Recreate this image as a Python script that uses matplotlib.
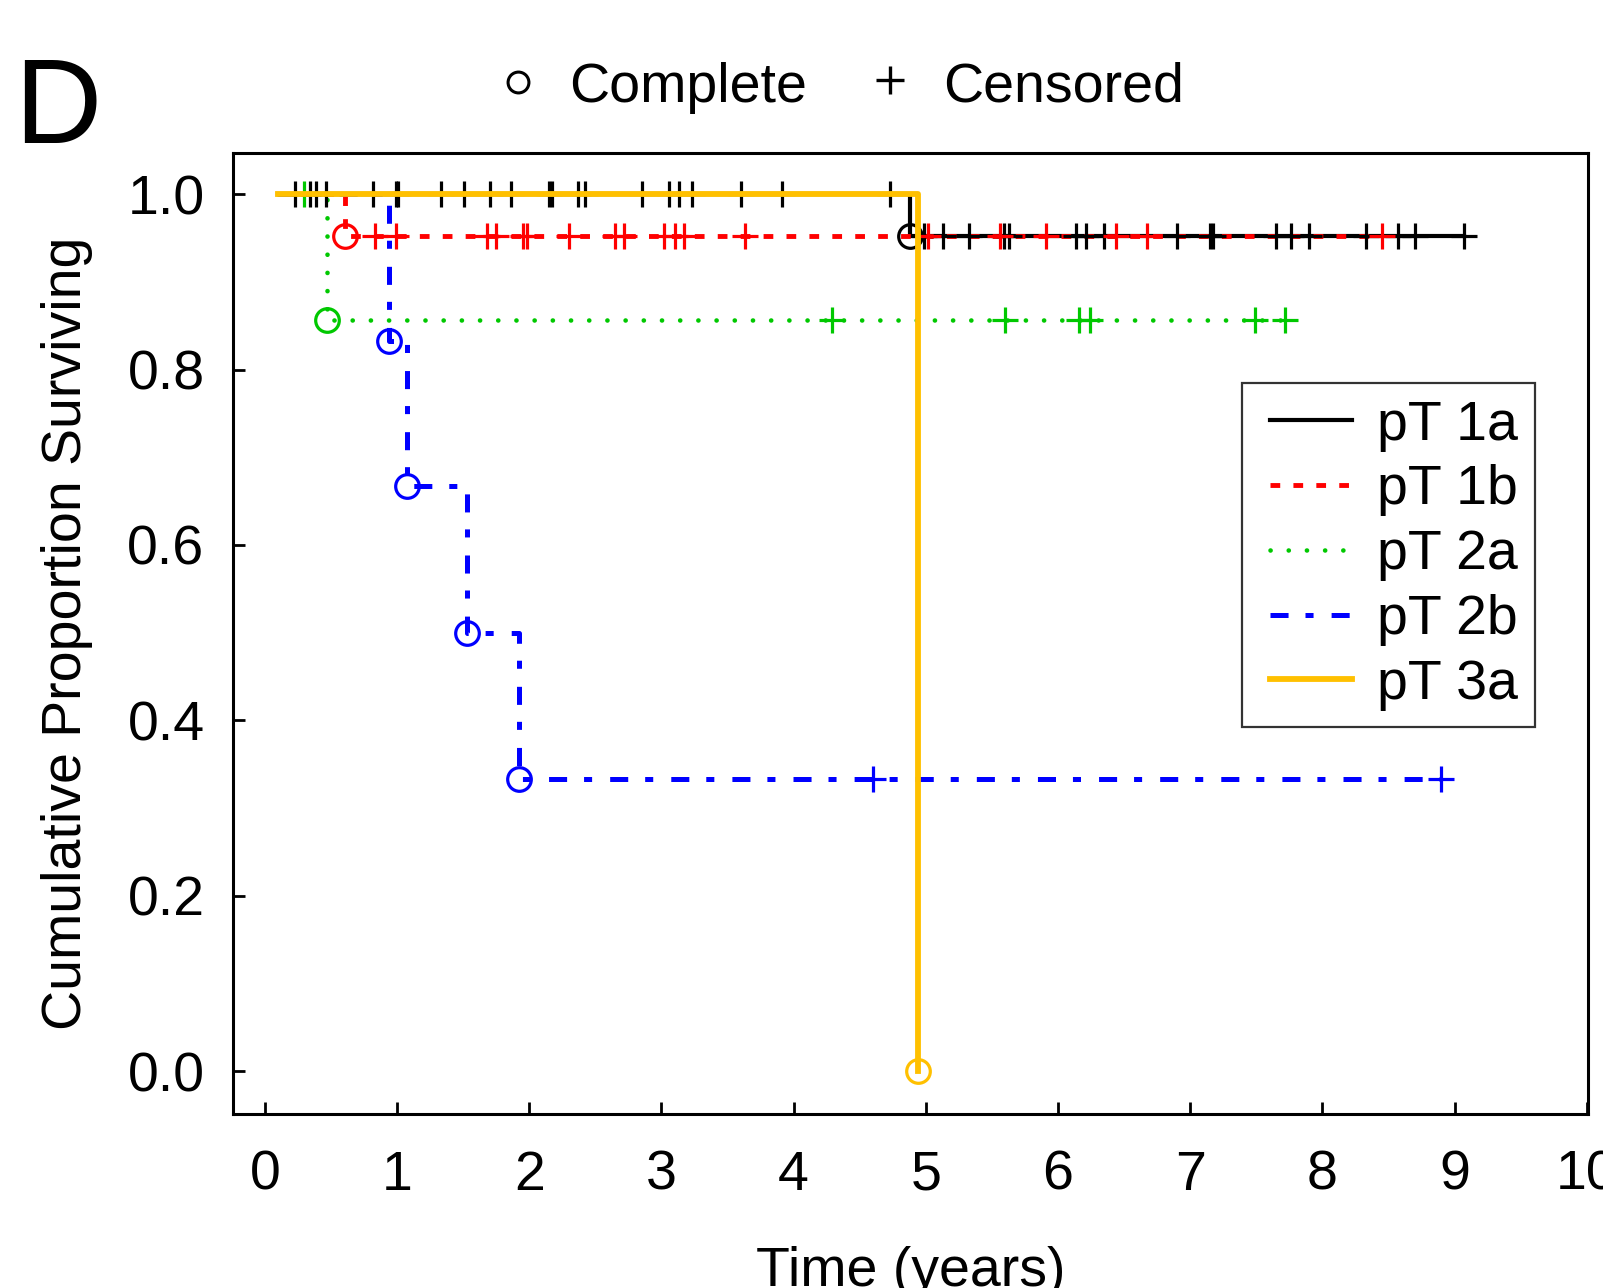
import numpy as np
import matplotlib
matplotlib.use("Agg")
import matplotlib.pyplot as plt
from matplotlib.lines import Line2D
from matplotlib.legend_handler import HandlerLine2D
from matplotlib.ticker import FormatStrFormatter

plt.rcParams['font.family'] = ['Liberation Sans', 'DejaVu Sans']
plt.rcParams['lines.scale_dashes'] = False

# ---------------- data ----------------
groups = ["pT 1a", "pT 1b", "pT 2a", "pT 2b", "pT 3a"]
curve_start = 0.10

# event (complete) times and survival after each event
ev_t_1a = [4.88]
ev_s_1a = [0.952]
cens_1a = [0.23, 0.34, 0.39, 0.46, 0.82, 0.99, 1.01, 1.33, 1.51, 1.70, 1.86,
           2.15, 2.17, 2.37, 2.42, 2.85, 3.06, 3.13, 3.23, 3.60, 3.91, 4.73,
           4.99, 5.13, 5.33, 5.59, 5.63, 6.14, 6.21, 6.35, 6.90, 7.15, 7.17,
           7.65, 7.76, 7.90, 8.33, 8.57, 8.70, 9.07]

ev_t_1b = [0.61]
ev_s_1b = [0.952]
cens_1b = [0.83, 0.99, 1.68, 1.75, 1.95, 1.98, 2.30, 2.65, 2.72, 3.02, 3.10,
           3.17, 3.63, 5.02, 5.56, 5.91, 6.44, 6.67, 8.45]

ev_t_2a = [0.47]
ev_s_2a = [0.857]
cens_2a = [0.30, 4.29, 5.60, 6.16, 6.24, 7.49, 7.72]

ev_t_2b = [0.94, 1.075, 1.53, 1.92]
ev_s_2b = [0.833, 0.667, 0.500, 0.333]
cens_2b = [4.60, 8.90]

ev_t_3a = [4.94]
ev_s_3a = [0.0]
cens_3a = []

xticks = list(range(0, 11))
yticks = [0.0, 0.2, 0.4, 0.6, 0.8, 1.0]

# ---------------- styles ----------------
colors = ["#000000", "#FF0000", "#00C800", "#0000FF", "#FFC000"]
lws = [3.0, 3.5, 3.3, 3.6, 4.2]
styles = ["-", (0, (7.0, 9.5)), (0, (0.1, 13.0)), (0, (13.0, 12.2, 5.8, 13.0)), "-"]
caps = ["butt", "butt", "round", "butt", "butt"]
line_z = [2.0, 2.1, 2.2, 2.3, 6.0]

data = [
    (ev_t_1a, ev_s_1a, cens_1a),
    (ev_t_1b, ev_s_1b, cens_1b),
    (ev_t_2a, ev_s_2a, cens_2a),
    (ev_t_2b, ev_s_2b, cens_2b),
    (ev_t_3a, ev_s_3a, cens_3a),
]

fig = plt.figure(figsize=(16.03, 12.88), dpi=100)
ax = fig.add_axes([0.1454, 0.1349, 0.8453, 0.7461])


def surv_at(t, ev_t, ev_s):
    s = 1.0
    for et, es in zip(ev_t, ev_s):
        if t >= et:
            s = es
    return s


handles = []
for i, (ev_t, ev_s, cens) in enumerate(data):
    end = max(list(ev_t) + list(cens))
    xs = [curve_start] + list(ev_t) + [end]
    ys = [1.0] + list(ev_s) + [ev_s[-1]]
    ax.plot(xs, ys, drawstyle="steps-post", color=colors[i], lw=lws[i],
            linestyle=styles[i], dash_capstyle=caps[i], zorder=line_z[i])
    handles.append(Line2D([], [], color=colors[i], lw=lws[i], linestyle=styles[i],
                          dash_capstyle=caps[i]))

for i, (ev_t, ev_s, cens) in enumerate(data):
    mz = 6.5 if i == 4 else 4 + i * 0.1
    ax.plot(ev_t, ev_s, linestyle="none", marker="o", ms=17, mew=2.3,
            mfc="none", mec=colors[i], zorder=mz)
    cy = [surv_at(t, ev_t, ev_s) for t in cens]
    ax.plot(cens, cy, linestyle="none", marker="+", ms=19, mew=2.3,
            color=colors[i], zorder=mz)

ax.set_xlim(-0.24, 10.01)
ax.set_ylim(-0.049, 1.0466)
ax.set_xticks(xticks)
ax.set_yticks(yticks)
ax.yaxis.set_major_formatter(FormatStrFormatter('%.1f'))
ax.tick_params(axis='both', direction='in', length=8.5, width=2, labelsize=40)
ax.tick_params(axis='x', pad=25.5)
ax.tick_params(axis='y', pad=20.5)
for sp in ax.spines.values():
    sp.set_linewidth(2.2)

ax.set_xlabel("Time (years)", fontsize=40, labelpad=32)
ax.set_ylabel("Cumulative Proportion Surviving", fontsize=40, labelpad=25)


class OffsetLineHandler(HandlerLine2D):
    """Legend line that starts a little inside its handle box."""
    def create_artists(self, legend, orig_handle, xdescent, ydescent,
                       width, height, fontsize, trans):
        arts = super().create_artists(legend, orig_handle, xdescent, ydescent,
                                      width, height, fontsize, trans)
        x0 = -xdescent + 0.12 * width
        x1 = -xdescent + width
        for a in arts:
            xd = np.asarray(a.get_xdata(), dtype=float)
            if len(xd) >= 2:
                a.set_xdata(np.linspace(x0, x1, len(xd)))
        return arts


leg = ax.legend(handles, groups, loc="upper right",
                bbox_to_anchor=(0.9576, 0.7026), bbox_transform=fig.transFigure,
                fontsize=40, frameon=True, fancybox=False, borderpad=0.3,
                labelspacing=0.23, handlelength=1.67, handletextpad=0.46,
                borderaxespad=0,
                handler_map={Line2D: OffsetLineHandler()})
leg.get_frame().set_edgecolor("black")
leg.get_frame().set_linewidth(1.6)
leg.set_zorder(10)

# panel letter and top key
fig.text(0.009, 1 - 143 / 1288, "D", fontsize=87, va="baseline", ha="left")
fig.add_artist(Line2D([0.3232], [0.9363], marker="o", ms=15, mew=2.2, mfc="none",
                      mec="black", linestyle="none", transform=fig.transFigure))
fig.text(0.355, 1 - 102 / 1288, "Complete", fontsize=40, va="baseline", ha="left")
fig.add_artist(Line2D([0.5552], [0.9379], marker="+", ms=20, mew=2.4,
                      color="black", linestyle="none", transform=fig.transFigure))
fig.text(0.5883, 1 - 102 / 1288, "Censored", fontsize=40, va="baseline", ha="left")

fig.savefig("out.png", dpi=100)
